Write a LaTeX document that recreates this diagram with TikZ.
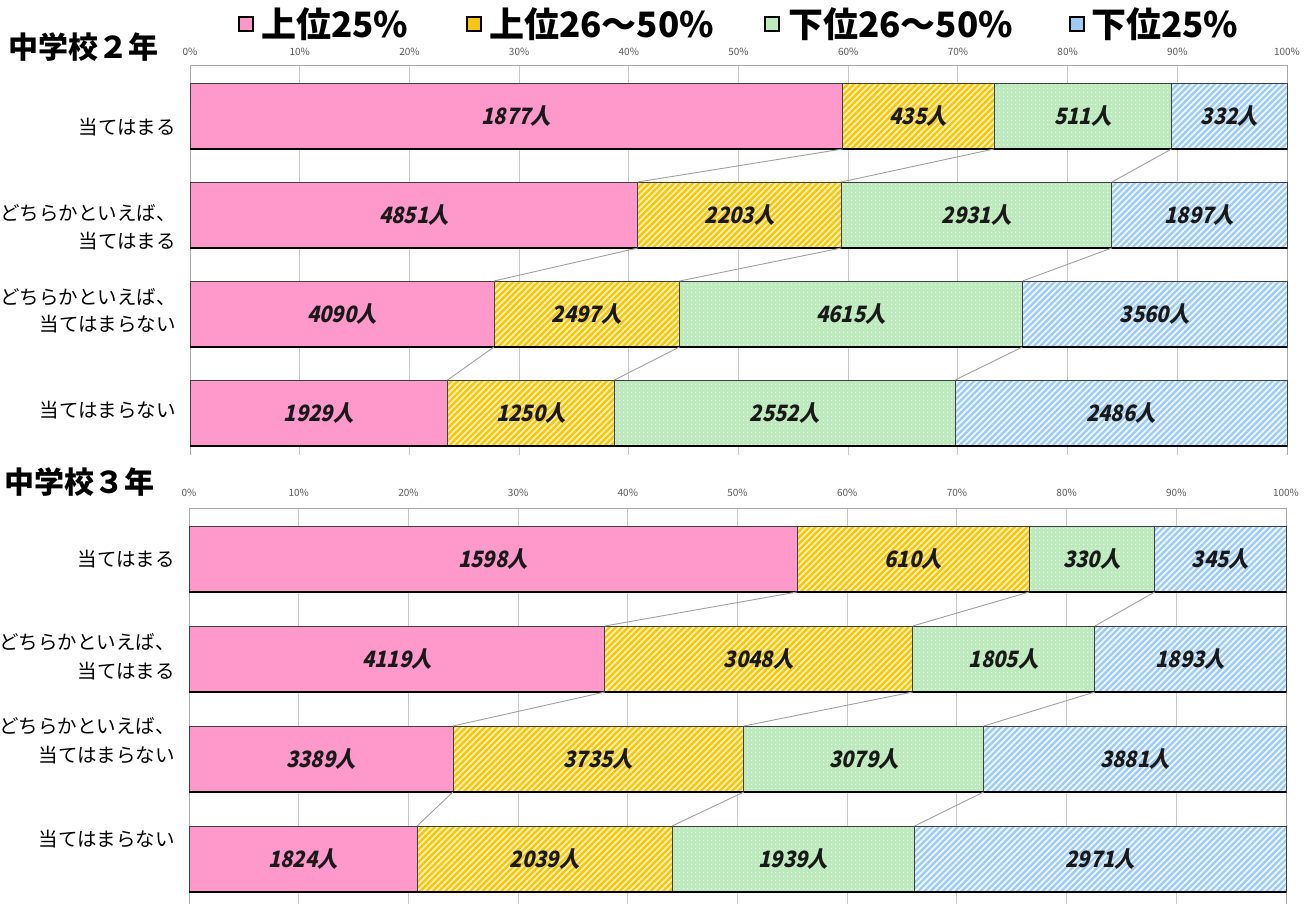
\documentclass[tikz,border=0pt]{standalone}
\usepackage{fontspec}
\setmainfont{Noto Sans CJK JP}
\newfontfamily\vfont[FakeSlant=0.22,FakeStretch=0.9]{Noto Sans CJK JP}
\newfontfamily\lfont{Noto Sans CJK JP}
\usetikzlibrary{patterns.meta}
\definecolor{pinkc}{HTML}{FF99CC}
\definecolor{yelc}{HTML}{F5C518}
\definecolor{yell}{HTML}{FFF2A8}
\definecolor{grnc}{HTML}{BDEABD}
\definecolor{grnl}{HTML}{EEFAEE}
\definecolor{bluc}{HTML}{9FCBF5}
\definecolor{blul}{HTML}{EEF6FF}
\definecolor{gridc}{HTML}{C8C8C8}
\definecolor{boxc}{HTML}{A8A8A8}
\definecolor{serc}{HTML}{A0A0A0}
\tikzset{
  segline/.style={draw=black!75,line width=0.8pt},
  bottomline/.style={draw=black,line width=2.6pt},
  seriesline/.style={draw=serc,line width=0.9pt},
  gridline/.style={draw=gridc,line width=0.9pt},
  boxline/.style={draw=boxc,line width=0.9pt},
  vlab/.style={font=\vfont\bfseries\fontsize{22.5}{22.5}\selectfont,text=black!90,inner sep=0pt},
  catlab/.style={font=\fontsize{19.5}{19.5}\selectfont,anchor=east,inner sep=0pt},
  ticklab/.style={font=\fontsize{10}{10}\selectfont,text=black!65,inner sep=0pt},
  titlelab/.style={font=\bfseries\fontsize{30}{30}\selectfont,anchor=west,inner sep=0pt},
  leglab/.style={font=\lfont\bfseries\fontsize{35}{35}\selectfont,anchor=west,inner sep=0pt},
  legbox/.style={draw=black,line width=2.4pt,minimum width=14pt,minimum height=14pt,inner sep=0pt},
  ypat/.style={pattern={Lines[angle=45,distance=4.4pt,line width=1.8pt]},pattern color=yell},
  bpat/.style={pattern={Lines[angle=45,distance=4.4pt,line width=1.8pt]},pattern color=blul},
  gpat/.style={pattern={Dots[distance=4pt,radius=0.9pt]},pattern color=grnl},
}
\def\W{1097}
\def\bh{66}
\newcommand\chartbar[6]{%
  \pgfmathsetmacro\tot{#3+#4+#5+#6}%
  \pgfmathsetmacro\xa{\xl+#3/\tot*\W}%
  \pgfmathsetmacro\xb{\xl+(#3+#4)/\tot*\W}%
  \pgfmathsetmacro\xc{\xl+(#3+#4+#5)/\tot*\W}%
  \pgfmathsetmacro\xe{\xl+\W}%
  \pgfmathsetmacro\yb{#2+\bh}%
  \pgfmathsetmacro\ym{#2+\bh/2}%
  \fill[pinkc] (\xl,#2) rectangle (\xa,\yb);
  \fill[yelc] (\xa,#2) rectangle (\xb,\yb);
  \fill[ypat] (\xa,#2) rectangle (\xb,\yb);
  \fill[grnc] (\xb,#2) rectangle (\xc,\yb);
  \fill[gpat] (\xb,#2) rectangle (\xc,\yb);
  \fill[bluc] (\xc,#2) rectangle (\xe,\yb);
  \fill[bpat] (\xc,#2) rectangle (\xe,\yb);
  \draw[segline] (\xl,#2) rectangle (\xa,\yb);
  \draw[segline] (\xa,#2) rectangle (\xb,\yb);
  \draw[segline] (\xb,#2) rectangle (\xc,\yb);
  \draw[segline] (\xc,#2) rectangle (\xe,\yb);
  \draw[bottomline] (\xl,\yb) -- (\xe,\yb);
  \coordinate (#1a-t) at (\xa,#2);
  \coordinate (#1b-t) at (\xb,#2);
  \coordinate (#1c-t) at (\xc,#2);
  \coordinate (#1a-b) at (\xa,\yb);
  \coordinate (#1b-b) at (\xb,\yb);
  \coordinate (#1c-b) at (\xc,\yb);
  \node[vlab] (#1-v1) at ({(\xl+\xa)/2},\ym) {#3人};
  \node[vlab] (#1-v2) at ({(\xa+\xb)/2},\ym) {#4人};
  \node[vlab] (#1-v3) at ({(\xb+\xc)/2},\ym) {#5人};
  \node[vlab] (#1-v4) at ({(\xc+\xe)/2},\ym) {#6人};
}
\newcommand\chartframe[4]{% #1 tick label y, #2 top, #3 bottom, #4 name
  \foreach \k in {0,...,10}{
    \pgfmathsetmacro\gx{\xl+\k*\W/10}
    \pgfmathtruncatemacro\pc{\k*10}
    \draw[gridline] (\gx,#2) -- (\gx,#3);
    \node[ticklab] (#4-t\k) at (\gx,#1) {\pc\%};
  }
  \pgfmathsetmacro\xe{\xl+\W}
  \draw[boxline] (\xl,#3) -- (\xl,#2) -- (\xe,#2) -- (\xe,#3);
}
\begin{document}
\begin{tikzpicture}[x=1pt,y=-1pt]
\useasboundingbox (0,0) rectangle (1316,904);
% legend
\node[legbox,fill=pinkc] (lg1) at (246,24) {};
\node[leglab] (lt1) at (261,24) {上位25\%};
\node[legbox,fill=yelc] (lg2) at (474,24) {};
\node[leglab] (lt2) at (489,24) {上位26～50\%};
\node[legbox,fill=grnc] (lg3) at (772,24) {};
\node[leglab] (lt3) at (788,24) {下位26～50\%};
\node[legbox,fill=bluc] (lg4) at (1077,24) {};
\node[leglab] (lt4) at (1091,24) {下位25\%};
% chart 1
\def\xl{190}
\node[titlelab] (ttl1) at (8,47) {中学校２年};
\chartframe{52}{65}{455}{ax1}
\chartbar{p1}{83}{1877}{435}{511}{332}
\chartbar{p2}{182}{4851}{2203}{2931}{1897}
\chartbar{p3}{281}{4090}{2497}{4615}{3560}
\chartbar{p4}{380}{1929}{1250}{2552}{2486}
\foreach \r/\s in {p1/p2,p2/p3,p3/p4}{
  \foreach \q in {a,b,c}{\draw[seriesline] (\r\q-b) -- (\s\q-t);}
}
\node[catlab] (c11) at (176,127) {当てはまる};
\node[catlab] (c12) at (176,213) {どちらかといえば、};
\node[catlab] (c13) at (176,241) {当てはまる};
\node[catlab] (c14) at (176,297) {どちらかといえば、};
\node[catlab] (c15) at (176,324) {当てはまらない};
\node[catlab] (c16) at (176,410) {当てはまらない};
% chart 2
\def\xl{189}
\node[titlelab] (ttl2) at (4,482) {中学校３年};
\chartframe{493}{508}{904}{ax2}
\chartbar{q1}{526}{1598}{610}{330}{345}
\chartbar{q2}{626}{4119}{3048}{1805}{1893}
\chartbar{q3}{726}{3389}{3735}{3079}{3881}
\chartbar{q4}{826}{1824}{2039}{1939}{2971}
\foreach \r/\s in {q1/q2,q2/q3,q3/q4}{
  \foreach \q in {a,b,c}{\draw[seriesline] (\r\q-b) -- (\s\q-t);}
}
\node[catlab] (c21) at (175,559) {当てはまる};
\node[catlab] (c22) at (175,642) {どちらかといえば、};
\node[catlab] (c23) at (175,671) {当てはまる};
\node[catlab] (c24) at (175,726) {どちらかといえば、};
\node[catlab] (c25) at (175,755) {当てはまらない};
\node[catlab] (c26) at (175,839) {当てはまらない};
\end{tikzpicture}
\end{document}
